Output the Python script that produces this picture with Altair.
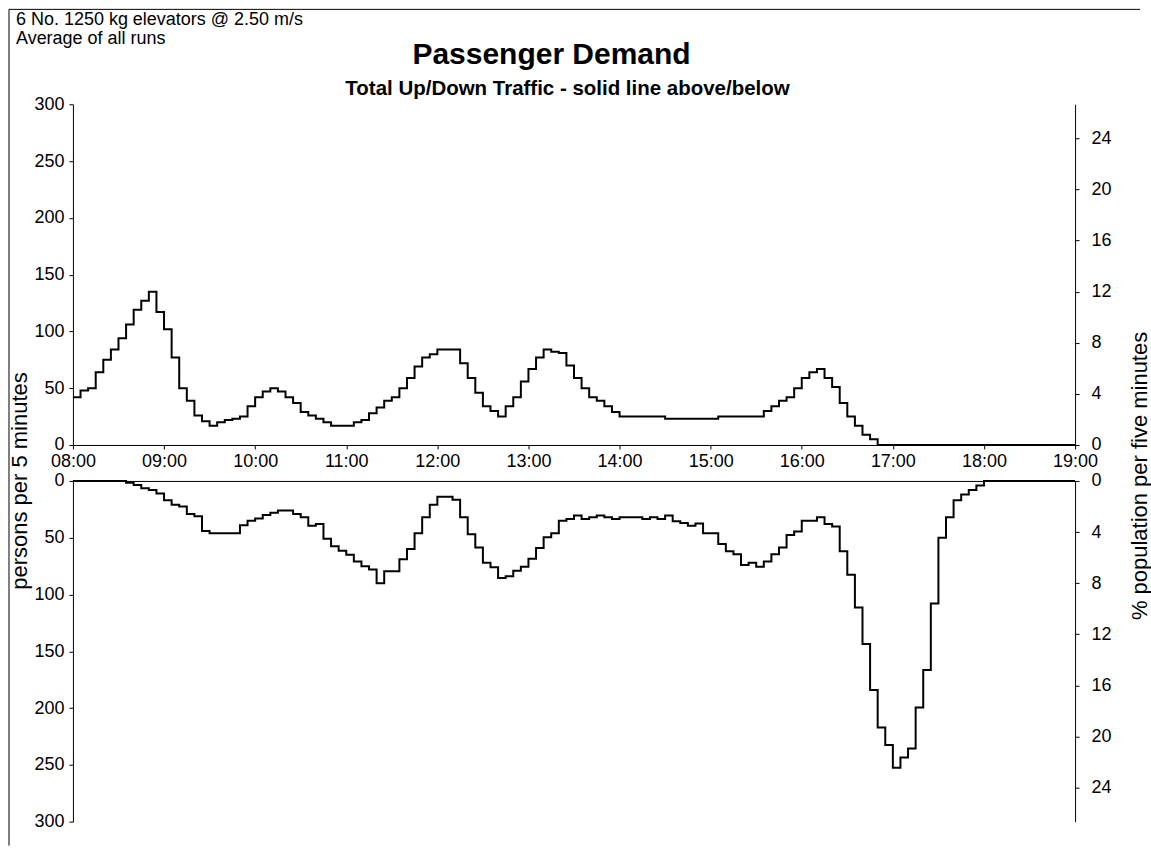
import altair as alt
import pandas as pd

FONT = "Liberation Sans"

# Five-minute bins from 08:00 to 19:00
START_HOUR = 8
END_HOUR = 19
BIN_MINUTES = 5
POPULATION = 1125  # building population used for the % axis

# Up traffic, persons per 5 minutes (one row per hour)
UP = [
    42, 48, 50, 64, 75, 84, 94, 106, 119, 127, 135, 117,      # 08:00
    102, 77, 50, 39, 26, 21, 17, 20, 22, 23, 25, 34,          # 09:00
    42, 47, 50, 47, 42, 37, 29, 26, 23, 20, 17, 17,           # 10:00
    17, 20, 22, 28, 33, 39, 42, 50, 59, 69, 77, 80,           # 11:00
    84, 84, 84, 72, 59, 46, 34, 30, 25, 34, 42, 56,           # 12:00
    67, 77, 84, 82, 81, 70, 59, 50, 42, 39, 34, 29,           # 13:00
    25, 25, 25, 25, 25, 25, 23, 23, 23, 23, 23, 23,           # 14:00
    23, 25, 25, 25, 25, 25, 25, 30, 34, 39, 42, 50,           # 15:00
    59, 64, 67, 59, 51, 37, 25, 17, 9, 5, 0, 0,               # 16:00
    0, 0, 0, 0, 0, 0, 0, 0, 0, 0, 0, 0,                       # 17:00
    0, 0, 0, 0, 0, 0, 0, 0, 0, 0, 0, 0,                       # 18:00
]

# Down traffic, persons per 5 minutes
DOWN = [
    0, 0, 0, 0, 0, 0, 0, 1.5, 3.5, 6.5, 8, 11,                # 08:00
    17, 21, 22.5, 29, 31, 44, 46, 46, 46, 46, 39, 35,         # 09:00
    33, 30, 28, 26, 26, 29, 32, 39.5, 38, 51, 57.5, 61.5,     # 10:00
    65, 71, 75, 78, 90, 79.5, 79.5, 69, 60, 46, 32, 21,       # 11:00
    14, 14, 16.5, 32, 47, 58.5, 72, 76, 85.5, 84, 79, 75.5,   # 12:00
    68.5, 59, 49.5, 46, 35, 33.5, 30.5, 33.5, 32, 30.5, 32, 33.5,  # 13:00
    32, 32, 32, 33.5, 32, 33.5, 30.5, 35.5, 37, 39.5, 37.5, 46,    # 14:00
    46, 55.5, 62, 64.5, 74, 72, 75.5, 71, 64.5, 58.5, 47.5, 44.5,  # 15:00
    35, 35, 32, 38, 40, 62, 82.5, 111.5, 143.5, 184, 217, 232.5,   # 16:00
    252.5, 243.5, 235.5, 199.5, 166.5, 108, 50, 32, 17, 12, 8, 4,  # 17:00
    0, 0, 0, 0, 0, 0, 0, 0, 0, 0, 0, 0,                       # 18:00
]

HOUR_TICKS = list(range(START_HOUR, END_HOUR + 1))
PERSON_TICKS = [0, 50, 100, 150, 200, 250, 300]
PCT_TICKS = [0, 4, 8, 12, 16, 20, 24]
PERSON_MAX = 300
PCT_MAX = PERSON_MAX / POPULATION * 100

HEADER_LINES = ["6 No. 1250 kg elevators @ 2.50 m/s", "Average of all runs"]
TITLE = "Passenger Demand"
SUBTITLE = "Total Up/Down Traffic - solid line above/below"
LEFT_TITLE = "persons per 5 minutes"
RIGHT_TITLE = "% population per five minutes"

W, H = 1003, 341

# step-after line: repeat the last bin value at the closing time
n = len(UP)
hours = [START_HOUR + i * BIN_MINUTES / 60 for i in range(n + 1)]
df = pd.DataFrame({
    "hour": hours,
    "up": UP + [UP[-1]],
    "down": DOWN + [DOWN[-1]],
})
df["up_pct"] = df["up"] / POPULATION * 100
df["down_pct"] = df["down"] / POPULATION * 100

x_scale = alt.Scale(domain=[START_HOUR, END_HOUR], nice=False, zero=False)

axis_common = dict(grid=False, title=None, labelFont=FONT, labelFontSize=18,
                   labelColor="black", domainColor="black", tickColor="black",
                   domainWidth=1, tickWidth=1)

x_top = alt.X("hour:Q", scale=x_scale, axis=alt.Axis(
    values=HOUR_TICKS, tickSize=4, labelPadding=4, labelFlush=False,
    labelOverlap=False,
    labelExpr="(datum.value < 10 ? '0' : '') + datum.value + ':00'",
    **axis_common))
x_bottom = alt.X("hour:Q", scale=x_scale, axis=alt.Axis(
    orient="top", labels=False, ticks=False, **axis_common))


def left_axis():
    return alt.Axis(orient="left", values=PERSON_TICKS, tickSize=4,
                    labelPadding=5, labelOverlap=False, **axis_common)


def right_axis():
    return alt.Axis(orient="right", values=PCT_TICKS, tickSize=4,
                    labelPadding=12, labelOverlap=False, **axis_common)


base = alt.Chart(df)
line_style = dict(interpolate="step-after", color="black", strokeWidth=2)

# ---- upper panel: up traffic ----
up_line = base.mark_line(**line_style).encode(
    x=x_top,
    y=alt.Y("up:Q", scale=alt.Scale(domain=[0, PERSON_MAX], nice=False),
            axis=left_axis()),
)
up_pct = base.mark_line(opacity=0).encode(
    x=x_top,
    y=alt.Y("up_pct:Q", scale=alt.Scale(domain=[0, PCT_MAX], nice=False),
            axis=right_axis()),
)


def text_layer(text, x, y, **kw):
    return alt.Chart(pd.DataFrame({"t": [text]})).mark_text(
        font=FONT, color="black", baseline="alphabetic", **kw
    ).encode(text="t:N", x=alt.value(x), y=alt.value(y))


header = [
    text_layer(HEADER_LINES[0], -57, -79, align="left", fontSize=18),
    text_layer(HEADER_LINES[1], -57, -60, align="left", fontSize=18),
    text_layer(TITLE, 479, -40, align="center", fontSize=30, fontWeight="bold"),
    text_layer(SUBTITLE, 495, -9, align="center", fontSize=20.5, fontWeight="bold"),
    text_layer(LEFT_TITLE, -46, 377, align="center", angle=270, fontSize=22),
    text_layer(RIGHT_TITLE, 1075, 372, align="center", angle=270, fontSize=22),
]

# outer frame (top and left edges)
frame_df = pd.DataFrame({"k": [0]})
frame_top = alt.Chart(frame_df).mark_rule(color="black", strokeWidth=1).encode(
    x=alt.value(-64), x2=alt.value(1068), y=alt.value(-95))
frame_left = alt.Chart(frame_df).mark_rule(color="black", strokeWidth=1).encode(
    x=alt.value(-64), y=alt.value(-95), y2=alt.value(742))

top = alt.layer(
    up_line, up_pct, frame_top, frame_left, *header
).resolve_scale(y="independent").properties(width=W, height=H)

# ---- lower panel: down traffic ----
down_line = base.mark_line(**line_style).encode(
    x=x_bottom,
    y=alt.Y("down:Q", scale=alt.Scale(domain=[0, PERSON_MAX], nice=False, reverse=True),
            axis=left_axis()),
)
down_pct = base.mark_line(opacity=0).encode(
    x=x_bottom,
    y=alt.Y("down_pct:Q", scale=alt.Scale(domain=[0, PCT_MAX], nice=False, reverse=True),
            axis=right_axis()),
)
bottom = alt.layer(down_line, down_pct).resolve_scale(
    y="independent").properties(width=W, height=H)

chart = alt.vconcat(top, bottom, spacing=36, bounds="flush").properties(
    padding={"left": 8, "top": 8, "right": 0, "bottom": 0},
    background="white",
).configure_view(strokeWidth=0)

chart.save("out.html", embed_options={"renderer": "svg", "actions": False})
